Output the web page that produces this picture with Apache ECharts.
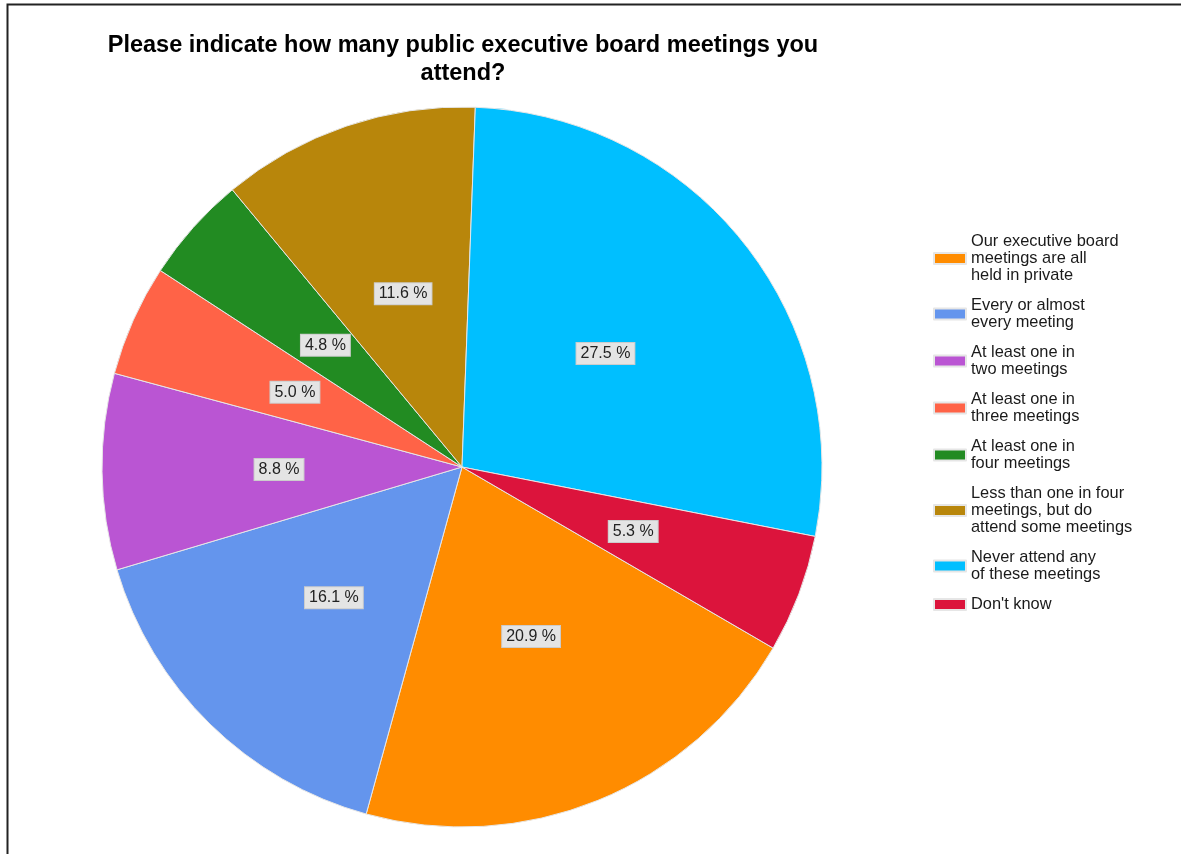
<!DOCTYPE html>
<html>
<head>
<meta charset="utf-8">
<title>Public executive board meetings attended</title>
<script src="https://cdn.jsdelivr.net/npm/echarts@6/dist/echarts.min.js"></script>
<style>
  html, body { margin: 0; padding: 0; background: #fff; }
  #chart { width: 1181px; height: 854px; }
</style>
</head>
<body>
<div id="chart"></div>
<script>
// Survey answers (legend order) and their shares in percent
const categories = [
  'Our executive board\nmeetings are all\nheld in private',
  'Every or almost\nevery meeting',
  'At least one in\ntwo meetings',
  'At least one in\nthree meetings',
  'At least one in\nfour meetings',
  'Less than one in four\nmeetings, but do\nattend some meetings',
  'Never attend any\nof these meetings',
  "Don't know"
];
const shares = [20.9, 16.1, 8.8, 5.0, 4.8, 11.6, 27.5, 5.3];
const colors = ['#FF8C00', '#6495ED', '#BA55D3', '#FF6347', '#228B22', '#B8860B', '#00BFFF', '#DC143C'];

const chart = echarts.init(document.getElementById('chart'), null, { renderer: 'canvas' });

const font = '"Liberation Sans", Arial, sans-serif';

chart.setOption({
  animation: false,
  color: colors,
  title: {
    text: 'Please indicate how many public executive board meetings you\nattend?',
    left: 463,
    top: 32,
    padding: 0,
    textAlign: 'center',
    textStyle: {
      fontFamily: font,
      fontSize: 23.5,
      fontWeight: 'bold',
      color: '#000',
      lineHeight: 28
    }
  },
  legend: {
    orient: 'vertical',
    left: 933,
    top: 233,
    padding: 0,
    itemWidth: 32,
    itemHeight: 11,
    itemGap: 13,
    selectedMode: false,
    icon: 'rect',
    data: categories,
    textStyle: {
      fontFamily: font,
      fontSize: 16.4,
      lineHeight: 17,
      color: '#1a1a1a'
    }
  },
  graphic: [{
    type: 'polyline',
    shape: { points: [[7.5, 854], [7.5, 4.5], [1181, 4.5]] },
    style: { stroke: '#222', lineWidth: 2, fill: null },
    silent: true
  }],
  series: [{
    type: 'pie',
    center: [462, 467],
    radius: 360,
    startAngle: -30.2,
    clockwise: true,
    avoidLabelOverlap: false,
    itemStyle: {
      borderColor: '#e6e6e6',
      borderWidth: 1
    },
    label: {
      show: true,
      position: 'inside',
      formatter: p => p.value.toFixed(1) + ' %',
      fontFamily: font,
      fontSize: 16,
      color: '#222',
      backgroundColor: '#e4e4e4',
      borderColor: '#cccccc',
      borderWidth: 1,
      padding: [3, 4, 2, 4]
    },
    labelLine: { show: false },
    emphasis: { disabled: true },
    data: categories.map((name, i) => ({ name: name, value: shares[i] }))
  }]
});
</script>
</body>
</html>
